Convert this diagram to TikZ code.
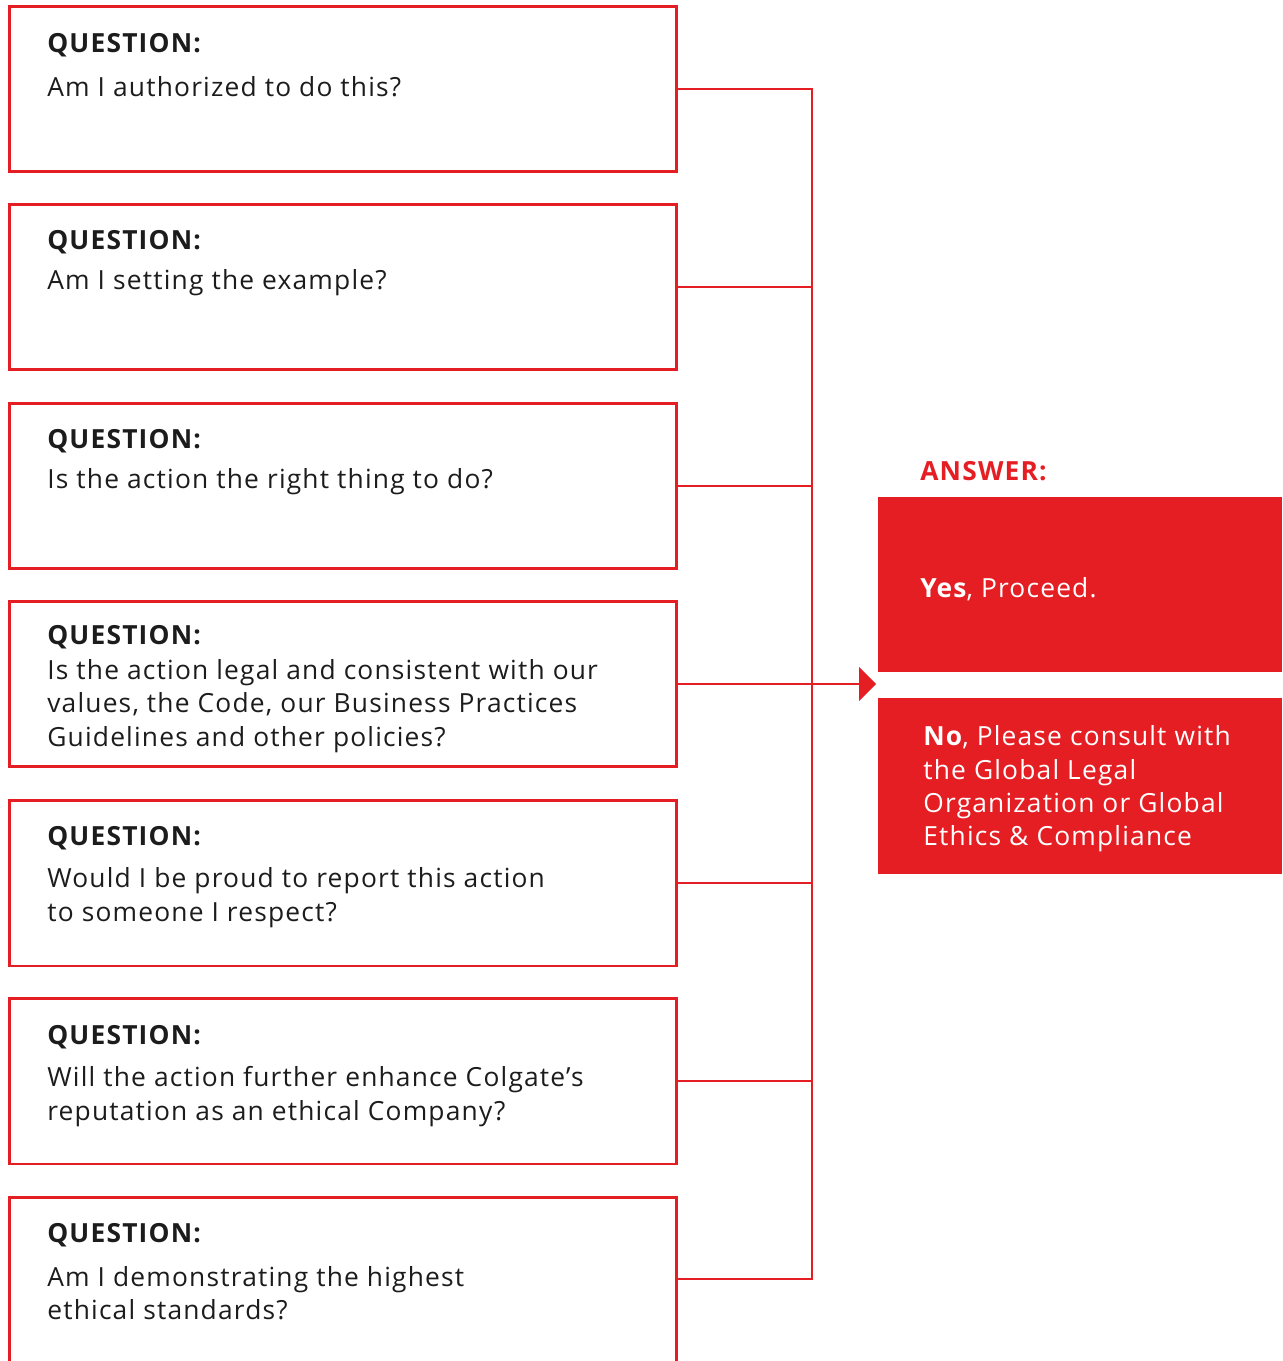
\documentclass[tikz,border=0pt]{standalone}
\usepackage{fontspec}
\setmainfont{Open Sans}[LetterSpace=4.5]
\usepackage{xcolor}
\usetikzlibrary{calc, positioning, arrows.meta}

\definecolor{cred}{RGB}{229, 30, 36}
\definecolor{qink}{RGB}{28, 28, 28}

\tikzset{
    qbox/.style={draw=cred, line width=1.7pt, minimum width=13.36cm, minimum height=3.32cm, inner sep=0pt},
    qtext/.style={anchor=north west, align=left, text=qink, inner sep=0pt, font=\fontsize{15}{19}\selectfont},
    abox/.style={fill=cred, anchor=north west, minimum width=8.08cm, minimum height=3.5cm, inner sep=0pt},
    atext/.style={anchor=west, align=left, text=white, inner sep=0pt, font=\fontsize{15}{19}\selectfont},
    link/.style={cred, line width=1.2pt}
}

\begin{document}
\begin{tikzpicture}[x=0.02cm, y=-0.02cm, >={Triangle[length=0.34cm, width=0.68cm]}]
    \useasboundingbox (0,0) rectangle (1282,1361);

    % 1. Các ô câu hỏi
    \node[qbox] (q1) at (343, 89) {};
    \node[qbox] (q2) at (343, 287) {};
    \node[qbox] (q3) at (343, 486) {};
    \node[qbox] (q4) at (343, 684) {};
    \node[qbox] (q5) at (343, 883) {};
    \node[qbox] (q6) at (343, 1081) {};
    \node[qbox, anchor=north, minimum height=3.5cm] (q7) at (343, 1196) {}; % ô cuối bị cắt

    % 2. Nội dung câu hỏi
    \node[qtext] (t1) at (47, 33) {\textbf{QUESTION:}\\[6pt] Am I authorized to do this?};
    \node[qtext] (t2) at (47, 230) {\textbf{QUESTION:}\\[4pt] Am I setting the example?};
    \node[qtext] (t3) at (47, 429) {\textbf{QUESTION:}\\[4pt] Is the action the right thing to do?};
    \node[qtext] (t4) at (47, 625) {\textbf{QUESTION:}\\[1pt] Is the action legal and consistent with our\\ values, the Code, our Business Practices\\ Guidelines and other policies?};
    \node[qtext] (t5) at (47, 826) {\textbf{QUESTION:}\\[5pt] Would I be proud to report this action\\ to someone I respect?};
    \node[qtext] (t6) at (47, 1025) {\textbf{QUESTION:}\\[5pt] Will the action further enhance Colgate’s\\ reputation as an ethical Company?};
    \node[qtext] (t7) at (47, 1223) {\textbf{QUESTION:}\\[6pt] Am I demonstrating the highest\\ ethical standards?};

    % 3. Đường nối về thanh dọc
    \coordinate (bustop) at (812, 89);
    \coordinate (q7in) at ($(q7.north east)+(0,83)$);
    \draw[link] (q1.east) -- (bustop) -- (q7in -| bustop) -- (q7in);
    \foreach \n in {2,3,5,6}
        \draw[link] (q\n.east) -- (q\n.east -| bustop);

    % 4. Ô trả lời
    \coordinate (tip) at (876, 684);
    \draw[link, ->] (q4.east) -- (tip);
    \node[text=cred, anchor=west, inner sep=0pt, font=\fontsize{15}{19}\selectfont\bfseries] (ans) at (920, 471) {ANSWER:};
    \node[abox] (yes) at (878, 497) {};
    \node[abox, minimum height=3.52cm] (no) at (878, 698) {};
    \node[atext] (yestxt) at (920, 589) {\textbf{Yes}, Proceed.};
    \node[atext] (notxt) at (923, 789) {\textbf{No}, Please consult with\\ the Global Legal\\ Organization or Global\\ Ethics \& Compliance};
\end{tikzpicture}
\end{document}
